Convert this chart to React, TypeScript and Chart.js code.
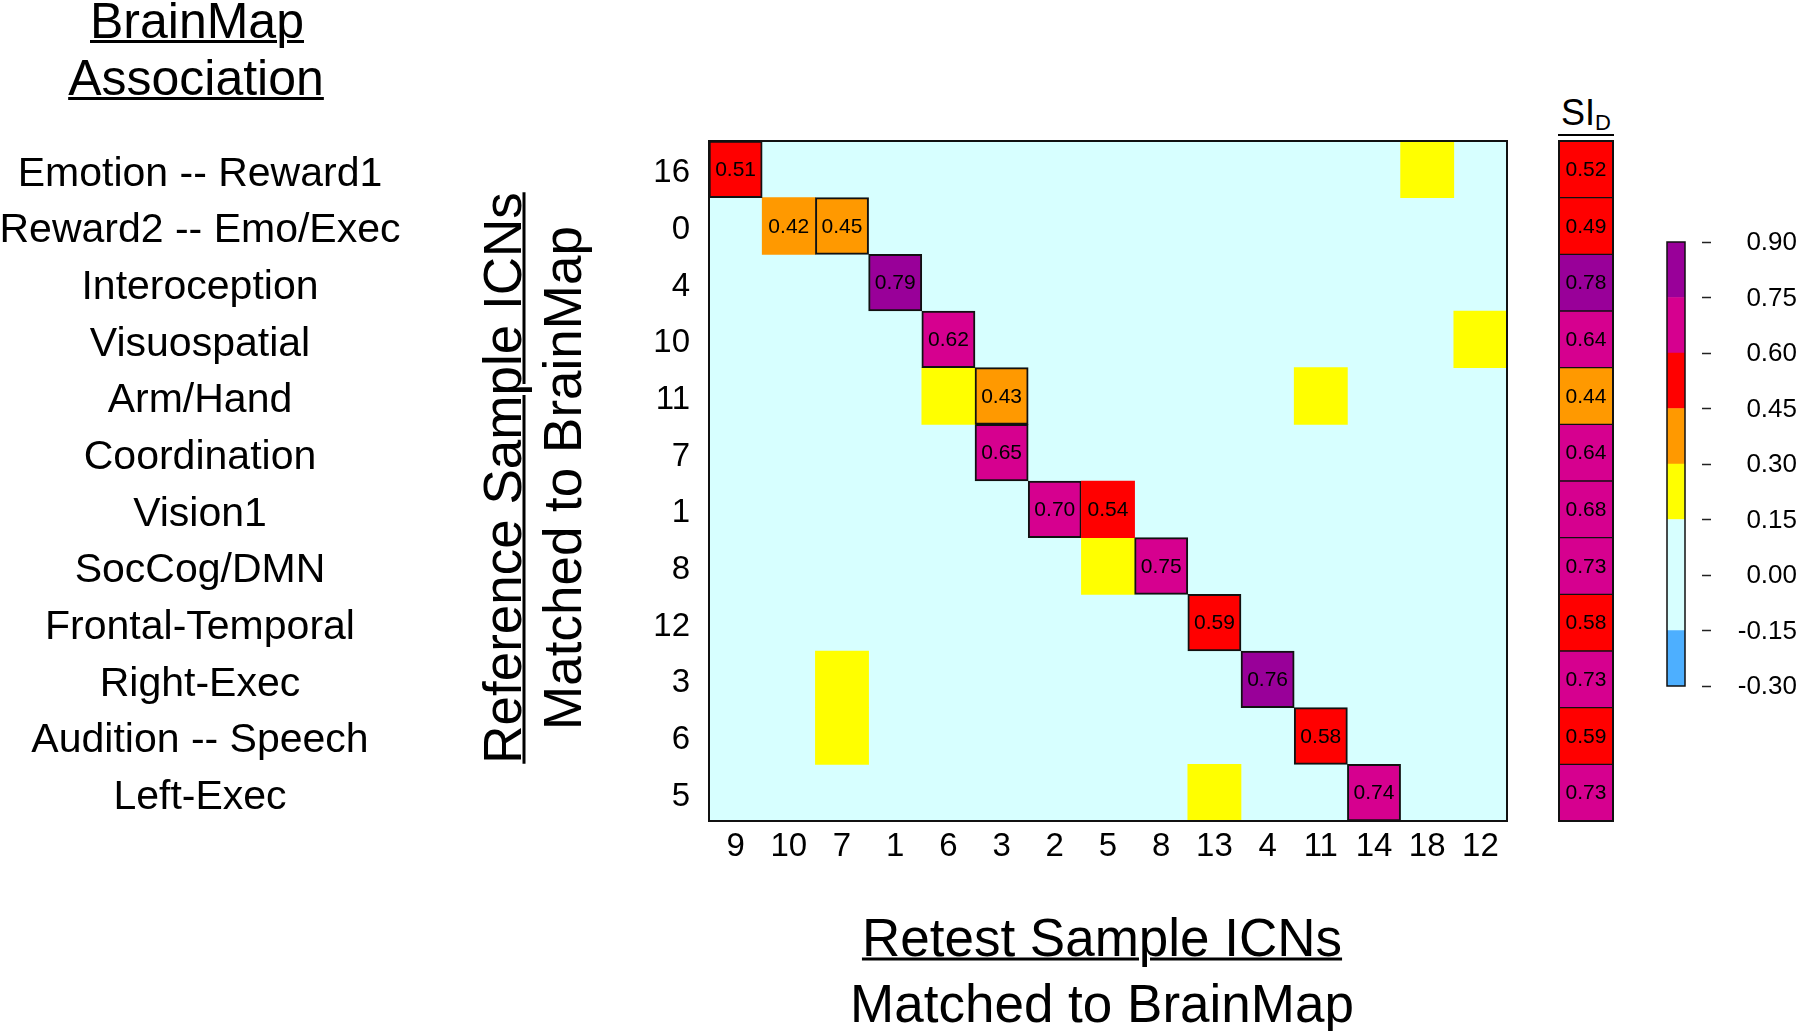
import React, { useEffect, useRef } from 'react';
import { Chart, registerables } from 'chart.js';

Chart.register(...registerables);

const FONT = "'Liberation Sans', Arial, Helvetica, sans-serif";
Chart.defaults.font.family = FONT;
Chart.defaults.color = '#000';

// ---- data ----
const retestICNs = ['9', '10', '7', '1', '6', '3', '2', '5', '8', '13', '4', '11', '14', '18', '12'];
const referenceICNs = ['16', '0', '4', '10', '11', '7', '1', '8', '12', '3', '6', '5'];
const brainMapLabels = [
  'Emotion -- Reward1',
  'Reward2 -- Emo/Exec',
  'Interoception',
  'Visuospatial',
  'Arm/Hand',
  'Coordination',
  'Vision1',
  'SocCog/DMN',
  'Frontal-Temporal',
  'Right-Exec',
  'Audition -- Speech',
  'Left-Exec',
];

// similarity between reference (rows) and retest (columns) ICNs; 0 = near zero
const similarity: number[][] = [
  [0.51, 0, 0, 0, 0, 0, 0, 0, 0, 0, 0, 0, 0, 0.21, 0],
  [0, 0.42, 0.45, 0, 0, 0, 0, 0, 0, 0, 0, 0, 0, 0, 0],
  [0, 0, 0, 0.79, 0, 0, 0, 0, 0, 0, 0, 0, 0, 0, 0],
  [0, 0, 0, 0, 0.62, 0, 0, 0, 0, 0, 0, 0, 0, 0, 0.19],
  [0, 0, 0, 0, 0.24, 0.43, 0, 0, 0, 0, 0, 0.2, 0, 0, 0],
  [0, 0, 0, 0, 0, 0.65, 0, 0, 0, 0, 0, 0, 0, 0, 0],
  [0, 0, 0, 0, 0, 0, 0.7, 0.54, 0, 0, 0, 0, 0, 0, 0],
  [0, 0, 0, 0, 0, 0, 0, 0.26, 0.75, 0, 0, 0, 0, 0, 0],
  [0, 0, 0, 0, 0, 0, 0, 0, 0, 0.59, 0, 0, 0, 0, 0],
  [0, 0, 0.18, 0, 0, 0, 0, 0, 0, 0, 0.76, 0, 0, 0, 0],
  [0, 0, 0.17, 0, 0, 0, 0, 0, 0, 0, 0, 0.58, 0, 0, 0],
  [0, 0, 0, 0, 0, 0, 0, 0, 0, 0.21, 0, 0, 0.74, 0, 0],
];
// column index of the matched retest ICN for each reference row
const matchedColumn = [0, 2, 3, 4, 5, 5, 6, 8, 9, 10, 11, 12];
const siValues = [0.52, 0.49, 0.78, 0.64, 0.44, 0.64, 0.68, 0.73, 0.58, 0.73, 0.59, 0.73];

const binEdges = [-0.3, -0.15, 0.15, 0.3, 0.45, 0.6, 0.75, 0.9];
const binColors = ['#4DAFFF', '#D7FFFF', '#FFFF00', '#FF9900', '#FF0000', '#D6008F', '#990099'];
const colorbarTicks = [-0.3, -0.15, 0.0, 0.15, 0.3, 0.45, 0.6, 0.75, 0.9];
const labelThreshold = 0.3;

function colorFor(v: number): string {
  for (let i = 0; i < binColors.length; i++) {
    if (v > binEdges[i] && v <= binEdges[i + 1]) return binColors[i];
  }
  return v <= binEdges[0] ? binColors[0] : binColors[binColors.length - 1];
}

const framePlugin = (width: number) => ({
  id: 'frame',
  afterDatasetsDraw(chart: any) {
    const { ctx, chartArea: a } = chart;
    ctx.save();
    ctx.strokeStyle = '#111';
    ctx.lineWidth = width;
    ctx.strokeRect(a.left, a.top, a.right - a.left, a.bottom - a.top);
    ctx.restore();
  },
});

function makeMain(canvas: HTMLCanvasElement) {
  const datasets = referenceICNs.map((name, r) => ({
    label: name,
    data: similarity[r].map((v) => (v !== 0 ? [r - 0.5, r + 0.5] : null)),
    backgroundColor: similarity[r].map(colorFor),
    borderColor: '#111',
    borderWidth: similarity[r].map((_, c) => (c === matchedColumn[r] ? 2 : 0)),
    borderSkipped: false,
    barPercentage: 1,
    categoryPercentage: 1,
    grouped: false,
  }));

  const background = {
    id: 'bg',
    beforeDatasetsDraw(chart: any) {
      const { ctx, chartArea: a } = chart;
      ctx.save();
      ctx.fillStyle = colorFor(0);
      ctx.fillRect(a.left, a.top, a.right - a.left, a.bottom - a.top);
      ctx.restore();
    },
  };

  const cellText = {
    id: 'cellText',
    afterDatasetsDraw(chart: any) {
      const { ctx } = chart;
      ctx.save();
      ctx.font = `21px ${FONT}`;
      ctx.fillStyle = '#000';
      ctx.textAlign = 'center';
      ctx.textBaseline = 'middle';
      similarity.forEach((row, r) => {
        const meta = chart.getDatasetMeta(r);
        row.forEach((v, c) => {
          if (v < labelThreshold) return;
          const el = meta.data[c];
          if (!el) return;
          const p = el.getCenterPoint();
          ctx.fillText(v.toFixed(2), p.x, p.y + 1);
        });
      });
      ctx.restore();
    },
  };

  const rowNames = {
    id: 'rowNames',
    afterDraw(chart: any) {
      const { ctx } = chart;
      const y = chart.scales.y;
      ctx.save();
      ctx.font = `41px ${FONT}`;
      ctx.fillStyle = '#000';
      ctx.textAlign = 'center';
      ctx.textBaseline = 'middle';
      brainMapLabels.forEach((t, i) => ctx.fillText(t, 200, y.getPixelForValue(i) + 5));
      ctx.restore();
    },
  };

  return new Chart(canvas, {
    type: 'bar',
    data: { labels: retestICNs, datasets: datasets as any },
    options: {
      animation: false,
      responsive: false,
      maintainAspectRatio: false,
      layout: { padding: { top: 141, right: 23, bottom: 0, left: 0 } },
      plugins: { legend: { display: false }, tooltip: { enabled: false } },
      scales: {
        x: {
          type: 'category',
          offset: true,
          grid: { display: false, drawTicks: false },
          border: { display: false },
          ticks: { font: { size: 33 }, color: '#000', padding: 6, maxRotation: 0, autoSkip: false },
          afterFit: (s: any) => {
            s.height = 210;
          },
        },
        y: {
          type: 'linear',
          reverse: true,
          min: -0.5,
          max: 11.5,
          grid: { display: false, drawTicks: false },
          border: { display: false },
          afterBuildTicks: (s: any) => {
            s.ticks = referenceICNs.map((_, i) => ({ value: i }));
          },
          ticks: {
            font: { size: 33 },
            color: '#000',
            padding: 19,
            labelOffset: 4,
            autoSkip: false,
            callback: (v: any) => referenceICNs[v] ?? '',
          },
          afterFit: (s: any) => {
            s.width = 709;
          },
        },
      },
    } as any,
    plugins: [background, cellText, framePlugin(2), rowNames],
  });
}

function makeSI(canvas: HTMLCanvasElement) {
  const siText = {
    id: 'siText',
    afterDatasetsDraw(chart: any) {
      const { ctx } = chart;
      const meta = chart.getDatasetMeta(0);
      ctx.save();
      ctx.font = `21px ${FONT}`;
      ctx.fillStyle = '#000';
      ctx.textAlign = 'center';
      ctx.textBaseline = 'middle';
      siValues.forEach((v, i) => {
        const p = meta.data[i].getCenterPoint();
        ctx.fillText(v.toFixed(2), p.x, p.y + 1);
      });
      ctx.restore();
    },
  };
  return new Chart(canvas, {
    type: 'bar',
    data: {
      labels: referenceICNs,
      datasets: [
        {
          data: siValues.map(() => [0, 1]) as any,
          backgroundColor: siValues.map(colorFor),
          borderColor: '#111',
          borderWidth: 1,
          borderSkipped: false,
          barPercentage: 1,
          categoryPercentage: 1,
        },
      ],
    },
    options: {
      indexAxis: 'y',
      animation: false,
      responsive: false,
      layout: { padding: 4 },
      plugins: { legend: { display: false }, tooltip: { enabled: false } },
      scales: {
        x: { display: false, min: 0, max: 1 },
        y: { display: false },
      },
    } as any,
    plugins: [siText, framePlugin(2)],
  });
}

function makeColorbar(canvas: HTMLCanvasElement) {
  return new Chart(canvas, {
    type: 'bar',
    data: {
      labels: ['SI'],
      datasets: binColors.map((col, i) => ({
        data: [[binEdges[i], binEdges[i + 1]]] as any,
        backgroundColor: col,
        borderWidth: 0,
        barPercentage: 1,
        categoryPercentage: 1,
        grouped: false,
      })),
    },
    options: {
      animation: false,
      responsive: false,
      layout: { padding: { left: 7, top: 20, bottom: 20, right: 0 } },
      plugins: { legend: { display: false }, tooltip: { enabled: false } },
      scales: {
        x: { display: false },
        y: {
          position: 'right',
          min: -0.3,
          max: 0.9,
          afterBuildTicks: (s: any) => {
            s.ticks = colorbarTicks.map((v) => ({ value: v }));
          },
          ticks: {
            callback: (v: any) => Number(v).toFixed(2),
            font: { size: 26 },
            color: '#000',
            crossAlign: 'far',
            labelOffset: 1,
            autoSkip: false,
          },
          grid: {
            drawOnChartArea: false,
            drawTicks: true,
            tickLength: 26,
            tickColor: '#222',
            tickWidth: 1.5,
            tickBorderDash: [0, 17, 9, 300],
          },
          border: { display: false },
          afterFit: (s: any) => {
            s.width = 112;
          },
        },
      },
    } as any,
    plugins: [framePlugin(1.5)],
  });
}

function Txt(props: {
  x: number;
  y: number;
  size: number;
  children: React.ReactNode;
  underline?: boolean;
  rotate?: boolean;
}) {
  const { x, y, size, children, underline, rotate } = props;
  return (
    <div
      style={{
        position: 'absolute',
        left: x,
        top: y,
        transform: `translate(-50%, -50%)${rotate ? ' rotate(-90deg)' : ''}`,
        fontSize: size,
        lineHeight: `${size}px`,
        whiteSpace: 'nowrap',
        textDecoration: underline ? 'underline' : 'none',
        textDecorationThickness: underline ? 3 : undefined,
      }}
    >
      {children}
    </div>
  );
}

export default function App() {
  const mainRef = useRef<HTMLCanvasElement>(null);
  const siRef = useRef<HTMLCanvasElement>(null);
  const cbRef = useRef<HTMLCanvasElement>(null);

  useEffect(() => {
    const charts = [
      makeMain(mainRef.current!),
      makeSI(siRef.current!),
      makeColorbar(cbRef.current!),
    ];
    return () => charts.forEach((c) => c.destroy());
  }, []);

  return (
    <div
      style={{
        position: 'absolute',
        left: 0,
        top: 0,
        width: 1800,
        height: 1031,
        background: '#fff',
        fontFamily: FONT,
        color: '#000',
        overflow: 'hidden',
      }}
    >
      <canvas ref={mainRef} width={1530} height={1031} style={{ position: 'absolute', left: 0, top: 0 }} />
      <canvas ref={siRef} width={62} height={688} style={{ position: 'absolute', left: 1555, top: 137 }} />
      <canvas ref={cbRef} width={137} height={484} style={{ position: 'absolute', left: 1660, top: 222 }} />

      <Txt x={197} y={21} size={50} underline>
        BrainMap
      </Txt>
      <Txt x={196} y={78} size={50} underline>
        Association
      </Txt>

      <Txt x={502} y={478} size={53} rotate underline>
        Reference Sample ICNs
      </Txt>
      <Txt x={562} y={478} size={53} rotate>
        Matched to BrainMap
      </Txt>

      <Txt x={1102} y={937} size={53} underline>
        Retest Sample ICNs
      </Txt>
      <Txt x={1102} y={1003} size={53}>
        Matched to BrainMap
      </Txt>

      <div
        style={{
          position: 'absolute',
          left: 1558,
          top: 97,
          width: 56,
          fontSize: 36,
          lineHeight: '32px',
          textAlign: 'center',
          borderBottom: '2px solid #000',
          whiteSpace: 'nowrap',
        }}
      >
        SI<span style={{ fontSize: 22, position: 'relative', top: 5 }}>D</span>
      </div>
    </div>
  );
}
